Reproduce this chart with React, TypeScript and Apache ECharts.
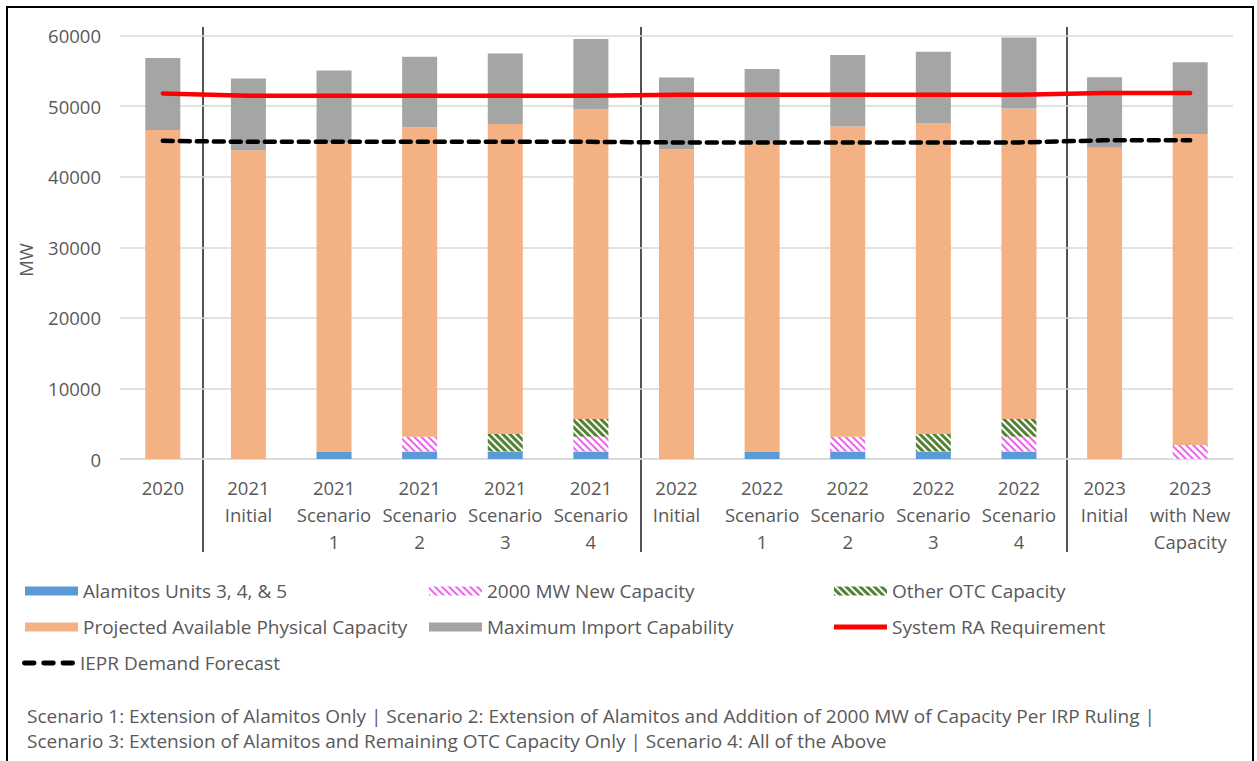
import React, { useEffect, useRef } from "react";
import * as echarts from "echarts";

const categories = [
  "2020",
  "2021\nInitial",
  "2021\nScenario\n1",
  "2021\nScenario\n2",
  "2021\nScenario\n3",
  "2021\nScenario\n4",
  "2022\nInitial",
  "2022\nScenario\n1",
  "2022\nScenario\n2",
  "2022\nScenario\n3",
  "2022\nScenario\n4",
  "2023\nInitial",
  "2023\nwith New\nCapacity",
];

const alamitos = [0, 0, 1050, 1050, 1050, 1050, 0, 1050, 1050, 1050, 1050, 0, 0];
const newCapacity = [0, 0, 0, 2100, 0, 2100, 0, 0, 2100, 0, 2100, 0, 2000];
const otherOtc = [0, 0, 0, 0, 2500, 2500, 0, 0, 0, 2500, 2500, 0, 0];
const projected = [46600, 43750, 43800, 43850, 43900, 43850, 43900, 43950, 43950, 44000, 44000, 44100, 44050];
const maxImport = [10200, 10150, 10200, 10000, 10000, 10000, 10150, 10250, 10150, 10150, 10050, 10000, 10150];
const raRequirement = [51800, 51480, 51480, 51480, 51480, 51480, 51620, 51620, 51620, 51620, 51620, 51860, 51860];
const ieprForecast = [45080, 44930, 44930, 44930, 44930, 44930, 44850, 44850, 44850, 44850, 44850, 45150, 45150];

const yTicks = { min: 0, max: 60000, interval: 10000 };

const footnotes = [
  "Scenario 1: Extension of Alamitos Only | Scenario 2: Extension of Alamitos and Addition of 2000 MW of Capacity Per IRP Ruling |",
  "Scenario 3: Extension of Alamitos and Remaining OTC Capacity Only | Scenario 4: All of the Above",
];

const NAMES = {
  alamitos: "Alamitos Units 3, 4, & 5",
  newCap: "2000 MW New Capacity",
  otc: "Other OTC Capacity",
  projected: "Projected Available Physical Capacity",
  imports: "Maximum Import Capability",
  ra: "System RA Requirement",
  iepr: "IEPR Demand Forecast",
};

const FONT = "'Open Sans', Lato, sans-serif";
const TXT = "#595959";

export default function App() {
  const ref = useRef<HTMLDivElement>(null);

  useEffect(() => {
    if (!ref.current) return;
    const chart = echarts.init(ref.current, null, { renderer: "svg" });

    const legendLayout = [
      { name: NAMES.alamitos, left: 25, row: 591, icon: "rect", h: 9 },
      { name: NAMES.projected, left: 25, row: 627, icon: "rect", h: 9 },
      { name: NAMES.iepr, left: 22, row: 663, icon: "path://M2,0h10a2,2 0 0 1 0,5h-10a2,2 0 0 1 0,-5z M22,0h10a2,2 0 0 1 0,5h-10a2,2 0 0 1 0,-5z M42,0h10a2,2 0 0 1 0,5h-10a2,2 0 0 1 0,-5z", h: 5 },
      { name: NAMES.newCap, left: 429, row: 591, icon: "rect", h: 9 },
      { name: NAMES.imports, left: 429, row: 627, icon: "rect", h: 9 },
      { name: NAMES.otc, left: 834, row: 591, icon: "rect", h: 9 },
      { name: NAMES.ra, left: 834, row: 627, icon: "rect", h: 5 },
    ];

    const legends = legendLayout.map((l) => ({
      show: true,
      left: l.left,
      top: l.row - 11,
      padding: 0,
      itemWidth: 53,
      itemHeight: l.h,
      selectedMode: false,
      data: [{ name: l.name, icon: l.icon }],
      textStyle: { fontFamily: FONT, fontSize: 19, color: TXT, lineHeight: 22 },
    }));

    const hatch = (color: string, dash: number[]) => ({
      symbol: "rect",
      symbolSize: 1,
      color,
      backgroundColor: "#ffffff",
      dashArrayX: [1, 0],
      dashArrayY: dash,
      rotation: Math.PI / 4,
    });

    const barBase = {
      type: "bar",
      stack: "total",
      barWidth: 35,
      emphasis: { disabled: true },
    };

    const option: any = {
      animation: false,
      backgroundColor: "#ffffff",
      textStyle: { fontFamily: FONT },
      grid: { left: 120, right: 24, top: 35.5, bottom: 302, containLabel: false },
      legend: legends,
      xAxis: {
        type: "category",
        data: categories,
        axisLine: { lineStyle: { color: "#d9d9d9", width: 1.5 } },
        axisTick: { show: false },
        axisLabel: {
          interval: 0,
          fontFamily: FONT,
          fontSize: 18.5,
          color: TXT,
          lineHeight: 27,
          margin: 15,
        },
      },
      yAxis: {
        type: "value",
        min: yTicks.min,
        max: yTicks.max,
        interval: yTicks.interval,
        axisLine: { show: false },
        axisTick: { show: false },
        splitLine: { lineStyle: { color: "#d9d9d9", width: 1.5 } },
        axisLabel: {
          fontFamily: FONT,
          fontSize: 18.5,
          color: TXT,
          margin: 19,
          formatter: (v: number) => String(v),
        },
      },
      series: [
        { ...barBase, name: NAMES.alamitos, data: alamitos, itemStyle: { color: "#5b9bd5" } },
        {
          ...barBase,
          name: NAMES.newCap,
          data: newCapacity,
          itemStyle: { color: "#ffffff", decal: hatch("#f060f0", [2, 2.5]) },
        },
        {
          ...barBase,
          name: NAMES.otc,
          data: otherOtc,
          itemStyle: { color: "#ffffff", decal: hatch("#548235", [2.5, 2]) },
        },
        { ...barBase, name: NAMES.projected, data: projected, itemStyle: { color: "#f4b183" } },
        { ...barBase, name: NAMES.imports, data: maxImport, itemStyle: { color: "#a5a5a5" } },
        {
          type: "line",
          name: NAMES.ra,
          data: raRequirement,
          symbol: "none",
          z: 5,
          itemStyle: { color: "#ff0000" },
          lineStyle: { color: "#ff0000", width: 4.5, cap: "round" },
          emphasis: { disabled: true },
        },
        {
          type: "line",
          name: NAMES.iepr,
          data: ieprForecast,
          symbol: "none",
          z: 5,
          itemStyle: { color: "#000000" },
          lineStyle: { color: "#000000", width: 4.5, type: [10, 7], cap: "round" },
          emphasis: { disabled: true },
        },
      ],
      graphic: [
        {
          type: "rect",
          shape: { x: 7, y: 7, width: 1246, height: 770 },
          style: { fill: "none", stroke: "#000000", lineWidth: 2 },
          silent: true,
        },
        ...[203, 641, 1067].map((x) => ({
          type: "line",
          shape: { x1: x, y1: 27, x2: x, y2: 552 },
          style: { stroke: "#1a1a1a", lineWidth: 1.5 },
          silent: true,
        })),
        {
          type: "text",
          x: 25,
          y: 260,
          rotation: Math.PI / 2,
          style: {
            text: "MW",
            fontFamily: FONT,
            fontSize: 18.5,
            fill: TXT,
            align: "center",
            verticalAlign: "middle",
          },
          silent: true,
        },
        ...footnotes.map((t, i) => ({
          type: "text",
          x: 27,
          y: 716 + i * 25,
          style: {
            text: t,
            fontFamily: FONT,
            fontSize: 19,
            fill: TXT,
            align: "left",
            verticalAlign: "middle",
          },
          silent: true,
        })),
      ],
    };

    chart.setOption(option);
    return () => chart.dispose();
  }, []);

  return (
    <div
      ref={ref}
      style={{ position: "absolute", left: 0, top: 0, width: 1257, height: 761, background: "#fff" }}
    />
  );
}
